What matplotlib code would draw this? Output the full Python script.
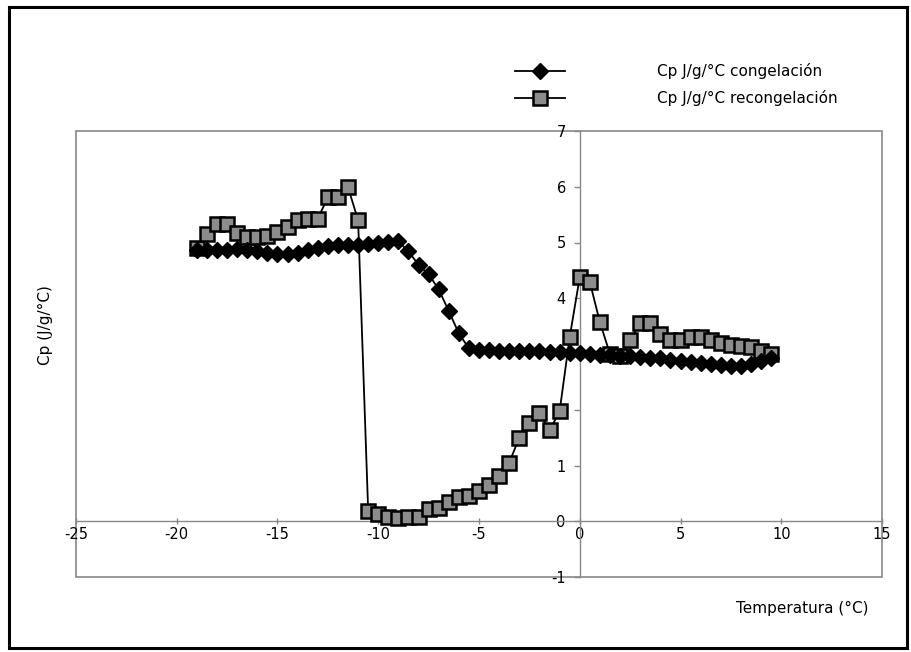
import numpy as np
import matplotlib
matplotlib.use("Agg")
import matplotlib.pyplot as plt
from matplotlib.patches import Rectangle

# temperatura (°C) y Cp (J/g/°C)
temp_cong = [-19, -18.5, -18, -17.5, -17, -16.5, -16, -15.5, -15, -14.5,
             -14, -13.5, -13, -12.5, -12, -11.5, -11, -10.5, -10, -9.5,
             -9, -8.5, -8, -7.5, -7, -6.5, -6, -5.5, -5, -4.5,
             -4, -3.5, -3, -2.5, -2, -1.5, -1, -0.5, 0, 0.5,
             1, 1.5, 2, 2.5, 3, 3.5, 4, 4.5, 5, 5.5,
             6, 6.5, 7, 7.5, 8, 8.5, 9, 9.5]
cp_cong = [4.87, 4.86, 4.86, 4.87, 4.88, 4.87, 4.85, 4.82, 4.79, 4.79,
           4.82, 4.87, 4.91, 4.94, 4.95, 4.95, 4.96, 4.97, 4.99, 5.01,
           5.02, 4.84, 4.60, 4.43, 4.16, 3.77, 3.37, 3.10, 3.07, 3.07,
           3.06, 3.06, 3.06, 3.05, 3.05, 3.04, 3.03, 3.02, 3.01, 3.00,
           2.99, 2.98, 2.97, 2.96, 2.95, 2.93, 2.92, 2.90, 2.88, 2.86,
           2.84, 2.82, 2.80, 2.78, 2.79, 2.82, 2.87, 2.93]

temp_recong = [-19, -18.5, -18, -17.5, -17, -16.5, -16, -15.5, -15, -14.5,
               -14, -13.5, -13, -12.5, -12, -11.5, -11, -10.5, -10, -9.5,
               -9, -8.5, -8, -7.5, -7, -6.5, -6, -5.5, -5, -4.5,
               -4, -3.5, -3, -2.5, -2, -1.5, -1, -0.5, 0, 0.5,
               1, 1.5, 2, 2.5, 3, 3.5, 4, 4.5, 5, 5.5,
               6, 6.5, 7, 7.5, 8, 8.5, 9, 9.5]
cp_recong = [4.90, 5.15, 5.33, 5.33, 5.17, 5.09, 5.09, 5.11, 5.18, 5.27,
             5.40, 5.42, 5.43, 5.81, 5.81, 5.99, 5.40, 0.18, 0.13, 0.07,
             0.06, 0.07, 0.08, 0.22, 0.23, 0.35, 0.43, 0.45, 0.55, 0.65,
             0.82, 1.05, 1.50, 1.76, 1.94, 1.63, 1.97, 3.30, 4.38, 4.29,
             3.57, 3.00, 2.97, 3.25, 3.55, 3.55, 3.35, 3.25, 3.25, 3.30,
             3.30, 3.25, 3.20, 3.17, 3.14, 3.12, 3.05, 3.00]

x_ticks = [-25, -20, -15, -10, -5, 0, 5, 10, 15]
y_ticks = [-1, 0, 1, 2, 3, 4, 5, 6, 7]

plt.rcParams['font.family'] = ['DejaVu Sans']
plt.rcParams['axes.unicode_minus'] = False

fig = plt.figure(figsize=(9.12, 6.52), dpi=100)
# marco exterior negro
fig.patches.append(Rectangle((9/912, 1 - 648/652), 898/912, 641/652,
                             transform=fig.transFigure, fill=False,
                             edgecolor='black', linewidth=2.2))

ax = fig.add_axes([76/912, 1 - 577/652, 806/912, 446/652])

ax.plot(temp_recong, cp_recong, color='black', linewidth=1.3, marker='s',
        markersize=9.5, markerfacecolor='#8c8c8c', markeredgecolor='black',
        markeredgewidth=1.8, label='Cp J/g/°C recongelación', zorder=3)
ax.plot(temp_cong, cp_cong, color='black', linewidth=1.3, marker='D',
        markersize=8.5, markerfacecolor='black', markeredgecolor='black',
        label='Cp J/g/°C congelación', zorder=4)

ax.set_xlim(-25, 15)
ax.set_ylim(-1, 7)
ax.set_xticks(x_ticks)
ax.set_yticks(y_ticks)

# ejes cruzando en cero
ax.spines['left'].set_position(('data', 0))
ax.spines['bottom'].set_position(('data', 0))
ax.spines['top'].set_visible(False)
ax.spines['right'].set_visible(False)
for s in ['left', 'bottom']:
    ax.spines[s].set_color('#888888')
    ax.spines[s].set_linewidth(1.0)
ax.add_patch(Rectangle((0, 0), 1, 1, transform=ax.transAxes, fill=False,
                       edgecolor='#888888', linewidth=1.2, zorder=1,
                       clip_on=False))

ax.tick_params(axis='both', colors='#888888', labelcolor='black',
               labelsize=10.5, length=4, width=1)
ax.tick_params(axis='x', direction='inout', pad=2)
ax.tick_params(axis='y', direction='out', pad=6)

fig.text(45/912, 1 - 325/652, 'Cp (J/g/°C)', rotation=90, fontsize=11,
         ha='center', va='center')
fig.text(802/912, 1 - 608/652, 'Temperatura (°C)', fontsize=11,
         ha='center', va='center')

h, l = ax.get_legend_handles_labels()
fig.legend([h[1], h[0]], [l[1], l[0]], loc='upper left',
           bbox_to_anchor=(515/912, 1 - 63/652), frameon=False,
           fontsize=11, handlelength=3.3, handletextpad=6.0,
           labelspacing=0.75, borderpad=0, borderaxespad=0)

fig.savefig('out.png', dpi=100)
